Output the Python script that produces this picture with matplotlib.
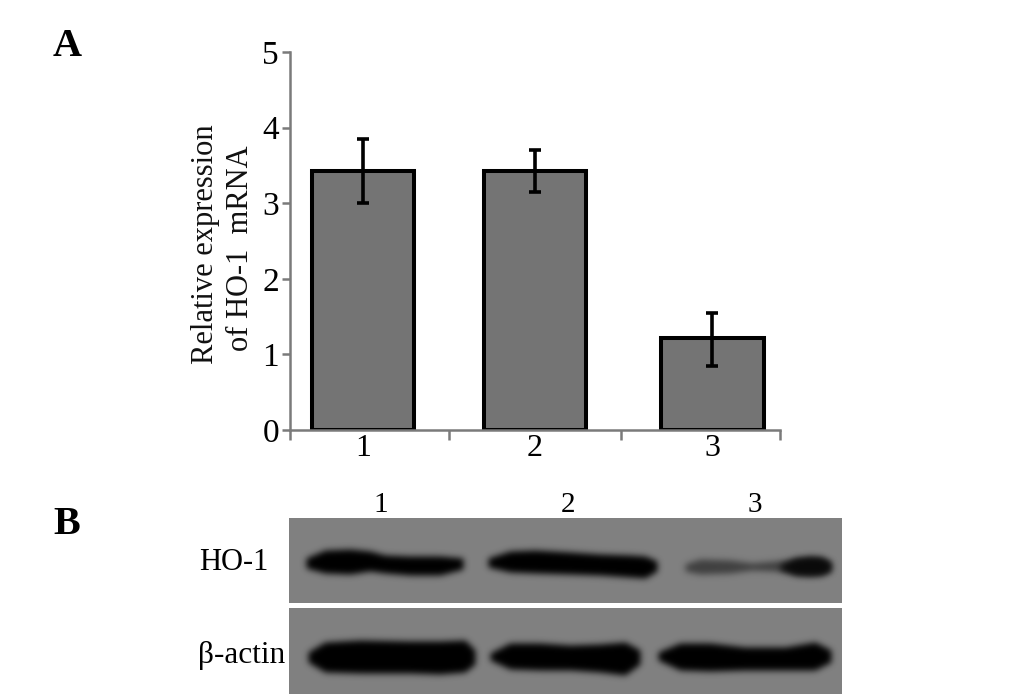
import numpy as np
from matplotlib import pyplot as plt

plt.rcParams['font.family'] = ['Liberation Serif', 'DejaVu Serif']

W, H = 1033, 699

# panel A
groups = ['1', '2', '3']
means = [3.43, 3.43, 1.22]
err_low = [0.43, 0.28, 0.37]
err_high = [0.42, 0.27, 0.33]
group_pos = [0.447, 1.5, 2.584]
bar_edges = [0, 0.973, 2.027, 3]
y_ticks = [0, 1, 2, 3, 4, 5]

# panel B, band outlines (pixels)
ho1_x = [[306, 325, 350, 370, 385, 410, 440, 463],
         [488, 510, 535, 570, 600, 630, 645, 657],
         [685, 700, 730, 752, 775, 800, 820, 831],
         [780, 795, 810, 822, 831]]
ho1_top = [[558, 550, 549, 551, 555, 556, 556, 558],
           [558, 551, 550, 552, 554, 555, 556, 561],
           [564, 559, 560, 563, 561, 558, 558, 562],
           [565, 558, 556, 557, 562]]
ho1_bot = [[568, 573, 574, 571, 573, 575, 575, 569],
           [567, 572, 573, 574, 575, 577, 578, 571],
           [571, 574, 573, 570, 571, 575, 575, 571],
           [569, 575, 576, 575, 571]]
ho1_color = ['#000000', '#000000', '#404040', '#0a0a0a']

actin_x = [[308, 325, 360, 410, 440, 465, 475],
           [490, 510, 540, 570, 600, 625, 640],
           [658, 680, 710, 745, 785, 815, 831]]
actin_top = [[652, 642, 640, 641, 641, 640, 650],
             [653, 643, 643, 645, 644, 642, 650],
             [652, 643, 643, 647, 647, 642, 650]]
actin_bot = [[662, 672, 673, 673, 674, 672, 664],
             [660, 669, 670, 670, 672, 675, 664],
             [660, 670, 671, 670, 670, 670, 662]]


def px_axes(x0, y0, x1, y1):
    return fig.add_axes([x0 / W, 1 - y1 / H, (x1 - x0) / W, (y1 - y0) / H])


def soften(img, dpi):
    # blur alpha so the bands get soft edges like on film
    pad = 10
    a = np.pad(img[:, :, 3], pad)
    k = np.array([1, 2, 4, 6, 8, 9, 8, 6, 4, 2, 1], dtype=float)
    k = k / k.sum()
    a = np.apply_along_axis(lambda r: np.convolve(r, k, mode='same'), 0, a)
    a = np.apply_along_axis(lambda r: np.convolve(r, k, mode='same'), 1, a)
    out = np.zeros((a.shape[0], a.shape[1], 4))
    rgb = img[:, :, :3].reshape(-1, 3)[img[:, :, 3].ravel().argmax()]
    out[:, :, :3] = rgb
    out[:, :, 3] = a
    return out, -pad, -pad


fig = plt.figure(figsize=[W / 100, H / 100], dpi=100, facecolor='white')

ax = px_axes(290, 52, 780, 430)
ax.bar(group_pos, means, width=0.63, color='#747474', edgecolor='black', linewidth=2.9, zorder=2)
ax.errorbar(group_pos, means, yerr=[err_low, err_high], fmt='none', ecolor='black',
            elinewidth=2.6, capsize=4.5, capthick=2.6, zorder=3)
ax.set_xlim(0, 3)
ax.set_ylim(0, 5)
ax.set_yticks(y_ticks)
ax.set_xticks(bar_edges)
ax.set_xticklabels([])
ax.set_xticks(group_pos, minor=True)
ax.set_xticklabels(groups, minor=True)
for axis in ['top', 'right']:
    ax.spines[axis].set_visible(False)
for axis in ['left', 'bottom']:
    ax.spines[axis].set_linewidth(1.8)
    ax.spines[axis].set_color('#7a7a7a')
ax.tick_params(axis='y', length=6, width=1.8, color='#7a7a7a', labelsize=24, pad=2)
ax.tick_params(axis='x', which='major', length=7, width=1.8, color='#7a7a7a')
ax.tick_params(axis='x', which='minor', length=0, labelsize=23, pad=3)
ax.patch.set_alpha(0)
fig.text(205 / W, 1 - 244 / H, 'Relative expression', rotation=90, fontsize=22,
         ha='center', va='center', color='#111111')
fig.text(240 / W, 1 - 248 / H, 'of HO-1  mRNA', rotation=90, fontsize=22,
         ha='center', va='center', color='#111111')

# blot strips
for ylims, xs, tops, bots, cols in [((518, 603), ho1_x, ho1_top, ho1_bot, ho1_color),
                                    ((608, 694), actin_x, actin_top, actin_bot, ['#000000'] * 3)]:
    bx = px_axes(289, ylims[0], 842, ylims[1])
    bx.set_facecolor('#808080')
    bx.set_xlim(289, 842)
    bx.set_ylim(ylims[1], ylims[0])
    bx.set_xticks([])
    bx.set_yticks([])
    for axis in bx.spines:
        bx.spines[axis].set_visible(False)
    for x, t, b, c in zip(xs, tops, bots, cols):
        poly = bx.fill_between(x, t, b, color=c, linewidth=0)
        poly.set_agg_filter(soften)

fig.text(53 / W, 1 - 46 / H, 'A', fontsize=29, fontweight='bold', va='center', ha='left')
fig.text(53 / W, 1 - 524 / H, 'B', fontsize=29, fontweight='bold', va='center', ha='left')
fig.text(199 / W, 1 - 563 / H, 'HO-1', fontsize=22, va='center', ha='left')
fig.text(198 / W, 1 - 656 / H, 'β-actin', fontsize=22.5, va='center', ha='left')
for lab, xp in zip(groups, [381, 568, 755]):
    fig.text(xp / W, 1 - 505 / H, lab, fontsize=21, va='center', ha='center')

fig.savefig('out.png', dpi=100)
